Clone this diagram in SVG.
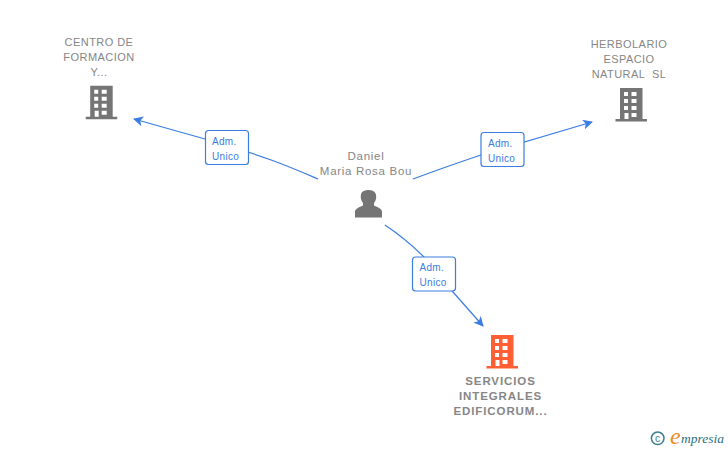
<svg xmlns="http://www.w3.org/2000/svg" width="728" height="450" viewBox="0 0 728 450">
<style>
.lbl{font-family:"Liberation Sans",Arial,sans-serif;font-size:11px;fill:#868686;text-anchor:middle;letter-spacing:.45px}
.b{font-weight:bold;letter-spacing:.9px}
.edge{fill:none;stroke:#3b7de0;stroke-width:1.2}
.tag{fill:#fff;stroke:#3b7de0;stroke-width:1.2}
.tt{font-family:"Liberation Sans",Arial,sans-serif;font-size:10px;fill:#3b7de0;letter-spacing:.3px}
</style>
<defs>
<marker id="arr" markerWidth="12" markerHeight="12" refX="9" refY="5" orient="auto" markerUnits="userSpaceOnUse"><path d="M0 0L10 5L0 10L2.500 5Z" fill="#3b7de0"/></marker>
<g id="bld">
<path fill-rule="evenodd" d="M4.500 0H27V31H31.500V33.500H0V31H4.500ZM8.500 4V8H12.500V4ZM16 4V8H21V4ZM8.500 11V15H12.500V11ZM16 11V15H21V11ZM8.500 18V22H12.500V18ZM16 18V22H21V18ZM9 25V31H13V25ZM16 25V29H21V25Z"/>
</g>
</defs>
<g id="connectors">
<path class="edge" marker-end="url(#arr)" d="M318 179C290 167 265 156 205 139Q170 129 134 119"/>
<path class="edge" marker-end="url(#arr)" d="M413 179C440 169 460 162 481 155L592 122"/>
<path class="edge" marker-end="url(#arr)" d="M385 225C400 235 412 245 425 258L453 292L483 326"/>
</g>
<g id="tag-1"><rect class="tag" x="205.500" y="130.500" width="43" height="34" rx="3"/><text class="tt" x="212" y="144.500">Adm.</text><text class="tt" x="212" y="159.500">Unico</text></g>
<g id="tag-2"><rect class="tag" x="481" y="132.500" width="43" height="34" rx="3"/><text class="tt" x="488" y="146.500">Adm.</text><text class="tt" x="488" y="161.500">Unico</text></g>
<g id="tag-3"><rect class="tag" x="412.500" y="257" width="43" height="34" rx="3"/><text class="tt" x="419.500" y="270.500">Adm.</text><text class="tt" x="419.500" y="285.500">Unico</text></g>
<g id="node-centro">
<text class="lbl" x="99" y="46">CENTRO DE</text><text class="lbl" x="99" y="61">FORMACION</text><text class="lbl" x="99" y="76">Y...</text>
<use href="#bld" x="85.700" y="85.700" fill="#757575"/>
</g>
<g id="node-herbolario">
<text class="lbl" x="629" y="48">HERBOLARIO</text><text class="lbl" x="629" y="63">ESPACIO</text><text class="lbl" x="629" y="78" xml:space="preserve">NATURAL  SL</text>
<use href="#bld" x="615.500" y="88" fill="#757575"/>
</g>
<g id="node-daniel">
<text class="lbl" x="366" y="160" style="font-size:11.500px;letter-spacing:.7px">Daniel</text><text class="lbl" x="366" y="175" style="font-size:11.500px;letter-spacing:.7px">Maria Rosa Bou</text>
<path fill="#757575" d="M355 217.500V212C355 208.500 359 207.500 363 205.500V203C360.500 200 360.500 197 361 194C362 191 365 190 368.500 190C372 190 375 191.500 375.800 194C376.500 197 376.500 200 374 203V205.500C378 207.500 382 208.500 382 212V217.500Z"/>
</g>
<g id="node-servicios">
<use href="#bld" x="486.500" y="335" fill="#ff5f33"/>
<text class="lbl b" x="500.500" y="385" style="font-size:11.500px">SERVICIOS</text><text class="lbl b" x="500.500" y="400" style="font-size:11.500px">INTEGRALES</text><text class="lbl b" x="500.500" y="415" style="font-size:11.500px">EDIFICORUM...</text>
</g>
<g id="logo">
<circle cx="657.700" cy="438.300" r="6.300" fill="none" stroke="#3e7f8f" stroke-width="1.500"/>
<text x="657.700" y="441.800" font-family="'Liberation Sans',sans-serif" font-size="10.500" fill="#3e7f8f" text-anchor="middle">c</text>
<text x="670" y="444" font-family="'Liberation Serif',serif" font-style="italic" font-size="24" fill="#f08a1d">e</text>
<text x="681" y="443" font-family="'Liberation Serif',serif" font-style="italic" font-size="13.500" fill="#2b6f80">mpresia</text>
</g>
</svg>
